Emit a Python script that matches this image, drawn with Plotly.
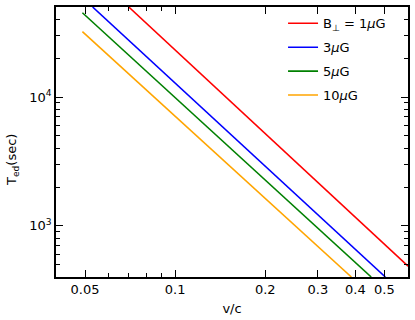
import plotly.graph_objects as go

# cooling time vs v/c (straight lines on log-log)
labels = ["B<sub>⊥</sub> = 1<i>μ</i>G", "3<i>μ</i>G", "5<i>μ</i>G", "10<i>μ</i>G"]
colors = ["#ff0000", "#0000ff", "#008000", "#ffa500"]
v_1uG = [0.070, 0.60]
t_1uG = [50000, 485]
v_3uG = [0.053, 0.504]
t_3uG = [50000, 400]
v_5uG = [0.049, 0.452]
t_5uG = [45100, 400]
v_10uG = [0.049, 0.388]
t_10uG = [32200, 400]

xticks = [0.05, 0.1, 0.2, 0.3, 0.4, 0.5]
xtick_text = ["0.05", "0.1", "0.2", "0.3", "0.4", "0.5"]
xminor = [0.06, 0.07, 0.08, 0.09]
yticks = [1000, 10000]
ytick_text = ["10<sup>3</sup>", "10<sup>4</sup>"]
yminor = [400, 500, 600, 700, 800, 900, 2000, 3000, 4000, 5000, 6000, 7000, 8000, 9000, 20000, 30000, 40000]

series = [(v_1uG, t_1uG), (v_3uG, t_3uG), (v_5uG, t_5uG), (v_10uG, t_10uG)]

fig = go.Figure()
for i, (v, t) in enumerate(series):
    fig.add_trace(go.Scatter(x=v, y=t, mode="lines", name=labels[i],
                             legendgroup=str(i),
                             line=dict(color=colors[i], width=1.6)))

axis_common = dict(
    type="log", showgrid=False, zeroline=False,
    showline=True, linecolor="black", linewidth=1.5, mirror="allticks",
    ticks="inside", ticklen=7, tickwidth=1.2, tickcolor="black",
    tickfont=dict(size=13, color="black"),
)

fig.update_xaxes(**axis_common, range=[-1.398, -0.222], tickmode="array",
                 tickvals=xticks, ticktext=xtick_text,
                 minor=dict(tickmode="array", tickvals=xminor, ticks="inside",
                            ticklen=4, tickwidth=1, tickcolor="black"),
                 title=dict(text="v/c", font=dict(size=13, color="black"), standoff=8))
fig.update_yaxes(**axis_common, range=[2.602, 4.699], tickmode="array",
                 tickvals=yticks, ticktext=ytick_text,
                 minor=dict(tickmode="array", tickvals=yminor, ticks="inside",
                            ticklen=4, tickwidth=1, tickcolor="black"))

# y title as an annotation, nudged down to sit where the reference has it
fig.add_annotation(text="T<sub>ed</sub>(sec)", textangle=-90, showarrow=False,
                   xref="paper", yref="paper", x=-0.125, y=0.5, yshift=-18,
                   xanchor="center", yanchor="middle",
                   font=dict(size=13, color="black"))

fig.update_layout(
    width=415, height=320,
    margin=dict(l=56, r=5, t=5, b=43),
    paper_bgcolor="white", plot_bgcolor="white",
    font=dict(family="DejaVu Sans", size=13, color="black"),
    legend=dict(x=0.645, y=0.995, xanchor="left", yanchor="top",
                bgcolor="rgba(0,0,0,0)", borderwidth=0,
                tracegroupgap=4, itemwidth=30,
                font=dict(size=13)),
)

# drop the browser's default 8px body margin so the figure sits at the page corner
fig.write_html("out.html", config={"displayModeBar": False},
               post_script="document.body.style.margin='0';")
